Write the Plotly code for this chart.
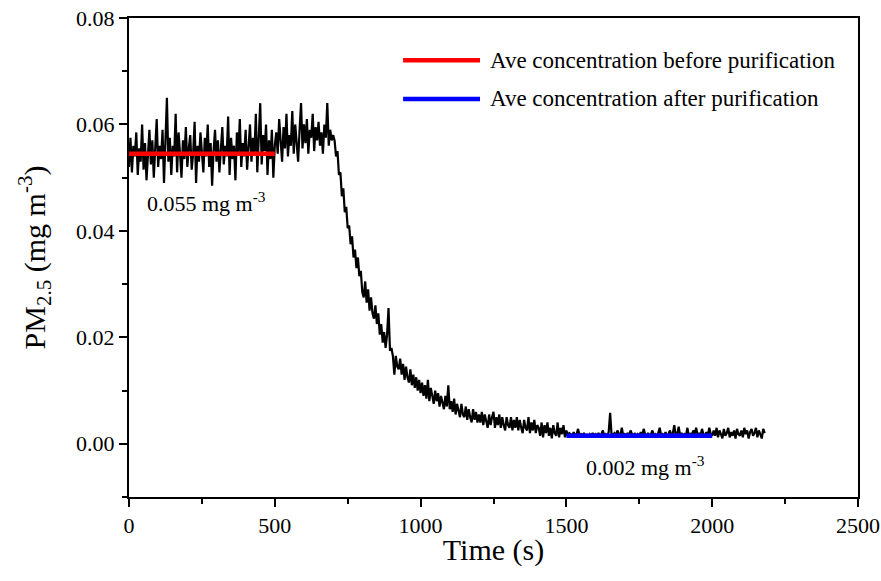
import plotly.graph_objects as go

# Sampling times (s), 5 s step
time_s = list(range(0, 2185, 5))

# PM2.5 concentration (mg m^-3)
pm25 = [
    # 0-100
    0.0520, 0.0575, 0.0510, 0.0560, 0.0540, 0.0585, 0.0505, 0.0555, 0.0530, 0.0600, 0.0515,
    0.0565, 0.0495, 0.0550, 0.0590, 0.0525, 0.0570, 0.0500, 0.0545, 0.0610, 0.0520,
    # 105-200
    0.0560, 0.0535, 0.0590, 0.0490, 0.0555, 0.0650, 0.0530, 0.0575, 0.0505, 0.0560,
    0.0540, 0.0620, 0.0510, 0.0585, 0.0545, 0.0500, 0.0570, 0.0535, 0.0595, 0.0520,
    # 205-300
    0.0555, 0.0580, 0.0515, 0.0545, 0.0605, 0.0490, 0.0560, 0.0530, 0.0585, 0.0545,
    0.0510, 0.0575, 0.0540, 0.0600, 0.0520, 0.0565, 0.0485, 0.0550, 0.0590, 0.0530,
    # 305-400
    0.0570, 0.0510, 0.0555, 0.0595, 0.0525, 0.0560, 0.0540, 0.0615, 0.0505, 0.0575,
    0.0535, 0.0560, 0.0495, 0.0585, 0.0545, 0.0610, 0.0520, 0.0565, 0.0540, 0.0590,
    # 405-500
    0.0515, 0.0560, 0.0600, 0.0530, 0.0575, 0.0545, 0.0620, 0.0510, 0.0565, 0.0640,
    0.0525, 0.0580, 0.0550, 0.0600, 0.0505, 0.0570, 0.0535, 0.0590, 0.0500, 0.0560,
    # 505-600
    0.0585, 0.0545, 0.0610, 0.0560, 0.0530, 0.0595, 0.0555, 0.0620, 0.0540, 0.0580,
    0.0560, 0.0625, 0.0545, 0.0600, 0.0570, 0.0530, 0.0590, 0.0640, 0.0555, 0.0600,
    # 605-700
    0.0565, 0.0610, 0.0545, 0.0590, 0.0575, 0.0620, 0.0550, 0.0595, 0.0570, 0.0605,
    0.0560, 0.0585, 0.0545, 0.0600, 0.0575, 0.0640, 0.0560, 0.0590, 0.0570, 0.0580,
    # 705-800
    0.0570, 0.0540, 0.0550, 0.0505, 0.0510, 0.0465, 0.0480, 0.0435, 0.0445, 0.0405,
    0.0410, 0.0375, 0.0390, 0.0350, 0.0365, 0.0330, 0.0350, 0.0315, 0.0325, 0.0285,
    # 805-900
    0.0275, 0.0305, 0.0265, 0.0290, 0.0250, 0.0275, 0.0245, 0.0235, 0.0260, 0.0225,
    0.0245, 0.0205, 0.0225, 0.0190, 0.0210, 0.0180, 0.0205, 0.0255, 0.0175, 0.0180,
    # 905-1000
    0.0165, 0.0130, 0.0165, 0.0145, 0.0140, 0.0160, 0.0130, 0.0150, 0.0120, 0.0145,
    0.0125, 0.0115, 0.0140, 0.0110, 0.0130, 0.0105, 0.0125, 0.0100, 0.0120, 0.0095,
    # 1005-1100
    0.0115, 0.0090, 0.0110, 0.0085, 0.0120, 0.0080, 0.0105, 0.0090, 0.0075, 0.0100,
    0.0080, 0.0095, 0.0070, 0.0090, 0.0075, 0.0065, 0.0090, 0.0070, 0.0110, 0.0065,
    # 1105-1200
    0.0080, 0.0060, 0.0085, 0.0055, 0.0075, 0.0060, 0.0050, 0.0075, 0.0055, 0.0050,
    0.0070, 0.0045, 0.0065, 0.0050, 0.0040, 0.0065, 0.0045, 0.0060, 0.0040, 0.0055,
    # 1205-1300
    0.0040, 0.0060, 0.0035, 0.0055, 0.0040, 0.0030, 0.0055, 0.0035, 0.0050, 0.0060,
    0.0030, 0.0050, 0.0035, 0.0055, 0.0030, 0.0050, 0.0035, 0.0025, 0.0050, 0.0035,
    # 1305-1400
    0.0030, 0.0050, 0.0025, 0.0045, 0.0030, 0.0050, 0.0025, 0.0045, 0.0030, 0.0020,
    0.0045, 0.0030, 0.0025, 0.0050, 0.0020, 0.0040, 0.0025, 0.0045, 0.0020, 0.0035,
    # 1405-1500
    0.0030, 0.0015, 0.0040, 0.0012, 0.0035, 0.0020, 0.0040, 0.0015, 0.0030, 0.0010,
    0.0035, 0.0020, 0.0015, 0.0040, 0.0012, 0.0030, 0.0018, 0.0035, 0.0012, 0.0025,
    # 1505-1600
    0.0015, 0.0020, 0.0018, 0.0015, 0.0022, 0.0015, 0.0018, 0.0028, 0.0015, 0.0018,
    0.0015, 0.0020, 0.0015, 0.0017, 0.0012, 0.0018, 0.0015, 0.0020, 0.0015, 0.0018,
    # 1605-1700
    0.0015, 0.0020, 0.0015, 0.0018, 0.0025, 0.0015, 0.0018, 0.0015, 0.0022, 0.0058,
    0.0015, 0.0018, 0.0020, 0.0015, 0.0025, 0.0018, 0.0015, 0.0030, 0.0015, 0.0018,
    # 1705-1800
    0.0015, 0.0020, 0.0015, 0.0025, 0.0018, 0.0015, 0.0020, 0.0012, 0.0018, 0.0015,
    0.0022, 0.0015, 0.0028, 0.0018, 0.0015, 0.0020, 0.0015, 0.0018, 0.0025, 0.0015,
    # 1805-1900
    0.0018, 0.0015, 0.0020, 0.0030, 0.0015, 0.0018, 0.0015, 0.0022, 0.0012, 0.0018,
    0.0025, 0.0015, 0.0020, 0.0035, 0.0015, 0.0018, 0.0032, 0.0015, 0.0020, 0.0015,
    # 1905-2000
    0.0018, 0.0015, 0.0030, 0.0012, 0.0020, 0.0015, 0.0025, 0.0018, 0.0030, 0.0015,
    0.0020, 0.0015, 0.0028, 0.0018, 0.0015, 0.0022, 0.0015, 0.0030, 0.0018, 0.0015,
    # 2005-2100
    0.0025, 0.0015, 0.0030, 0.0012, 0.0025, 0.0018, 0.0010, 0.0028, 0.0015, 0.0020,
    0.0030, 0.0012, 0.0022, 0.0015, 0.0025, 0.0010, 0.0028, 0.0018, 0.0015, 0.0025,
    # 2105-2180
    0.0012, 0.0030, 0.0018, 0.0025, 0.0010, 0.0022, 0.0028, 0.0015, 0.0020, 0.0030,
    0.0012, 0.0025, 0.0018, 0.0010, 0.0028, 0.0020,
]

# Average lines
avg_before_x = [0, 500]
avg_before = 0.0545
avg_after_x = [1500, 2000]
avg_after = 0.0015

legend_labels = ["Ave concentration before purification", "Ave concentration after purification"]
avg_before_label = "0.055 mg m<sup>-3</sup>"
avg_after_label = "0.002 mg m<sup>-3</sup>"

FONT = "Liberation Serif"

fig = go.Figure()
fig.add_trace(go.Scatter(x=time_s, y=pm25, mode="lines",
                         line=dict(color="black", width=2.2), showlegend=False))
fig.add_trace(go.Scatter(x=avg_before_x, y=[avg_before] * 2, mode="lines",
                         line=dict(color="#ff0000", width=4.5), showlegend=False))
fig.add_trace(go.Scatter(x=avg_after_x, y=[avg_after] * 2, mode="lines",
                         line=dict(color="#0000ff", width=4.5), showlegend=False))

# Manual legend (long line samples as in the original)
for i, (col, lab) in enumerate(zip(["#ff0000", "#0000ff"], legend_labels)):
    yp = 0.912 - i * 0.081
    fig.add_shape(type="line", xref="paper", yref="paper", x0=0.376, x1=0.4815, y0=yp, y1=yp,
                  line=dict(color=col, width=4.5))
    fig.add_annotation(xref="paper", yref="paper", x=0.4925, y=yp, text=lab, showarrow=False,
                       xanchor="left", yanchor="middle", font=dict(family=FONT, size=23, color="black"))

fig.add_annotation(x=55, y=0.0455, text=avg_before_label, showarrow=False, xanchor="left",
                   yanchor="middle", font=dict(family=FONT, size=22, color="black"))
fig.add_annotation(x=1560, y=-0.0042, text=avg_after_label, showarrow=False, xanchor="left",
                   yanchor="middle", font=dict(family=FONT, size=22, color="black"))

axis_common = dict(showgrid=False, zeroline=False, showline=True, linecolor="black", linewidth=2,
                   mirror=True, ticks="outside", ticklen=8, tickwidth=2, tickcolor="black",
                   automargin=False, ticklabeloverflow="allow",
                   tickfont=dict(family=FONT, size=22, color="black"))

fig.update_xaxes(range=[0, 2500], tickmode="array", tickvals=[0, 500, 1000, 1500, 2000, 2500],
                 minor=dict(ticks="outside", ticklen=5, tickwidth=2, tickcolor="black", dtick=250, tick0=0),
                 title=dict(text="Time (s)", font=dict(family=FONT, size=30, color="black"), standoff=2),
                 **axis_common)
fig.update_yaxes(range=[-0.01, 0.08], tickmode="array", tickvals=[0.0, 0.02, 0.04, 0.06, 0.08],
                 tickformat=".2f",
                 minor=dict(ticks="outside", ticklen=5, tickwidth=2, tickcolor="black", dtick=0.01, tick0=0),
                 title=dict(text="PM<sub>2.5</sub> (mg m<sup>-3</sup>)",
                            font=dict(family=FONT, size=30, color="black"), standoff=22),
                 **axis_common)

fig.update_layout(width=881, height=581, margin=dict(l=129, r=23, t=18, b=84),
                  paper_bgcolor="white", plot_bgcolor="white",
                  font=dict(family=FONT, size=22, color="black"))

# Remove the default 8 px page margin so the figure sits at the window origin
fig.write_html("out.html", config={"displayModeBar": False},
               post_script="document.body.style.margin='0px';")
